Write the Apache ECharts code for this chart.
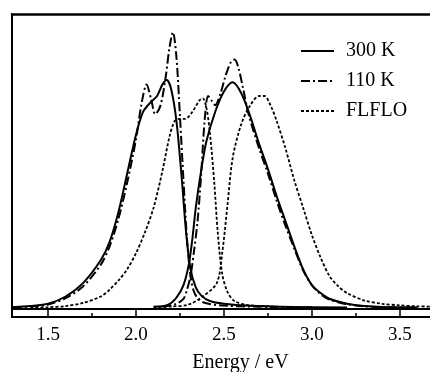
<!DOCTYPE html>
<html>
<head>
<meta charset="utf-8">
<script src="https://cdn.jsdelivr.net/npm/echarts@6/dist/echarts.min.js"></script>
<style>
  html, body { margin: 0; padding: 0; background: #fff; }
  #chart { width: 430px; height: 372px; }
</style>
</head>
<body>
<div id="chart"></div>
<script>
// energy (eV), intensity (a.u.)
const em300 = [[1.30,0.3],[1.40,0.8],[1.50,1.8],[1.60,5],[1.70,11],[1.80,21],[1.85,29],[1.90,42],[1.95,59],[2.00,76],[2.04,86],[2.08,90],[2.12,93],[2.15,98],[2.175,100],[2.20,96],[2.23,82],[2.26,57],[2.285,33],[2.31,17],[2.34,9],[2.37,5.5],[2.42,3],[2.50,1.8],[2.65,0.9],[2.90,0.4],[3.20,0.2]]
const ex300 = [[2.10,0.5],[2.18,1.3],[2.23,4.5],[2.27,10],[2.30,19],[2.32,30],[2.34,44],[2.37,60],[2.40,73],[2.45,86],[2.50,95],[2.55,99],[2.60,94],[2.65,84],[2.70,72],[2.75,61],[2.80,49],[2.85,38],[2.90,27],[2.95,17],[3.00,10],[3.05,6.5],[3.10,4],[3.20,1.8],[3.30,0.8],[3.40,0.4],[3.60,0.2]]
const em110 = [[1.30,0.2],[1.40,0.6],[1.50,1.5],[1.60,4.3],[1.70,9.5],[1.80,19],[1.85,27],[1.90,39],[1.95,55],[2.00,74],[2.03,89],[2.06,98],[2.085,92],[2.11,85],[2.14,89],[2.17,102],[2.19,114],[2.21,121],[2.23,110],[2.25,84],[2.27,56],[2.29,30],[2.31,14],[2.33,7],[2.36,3.5],[2.40,2],[2.50,1],[2.70,0.5],[3.00,0.2]]
const ex110 = [[2.15,0.5],[2.22,1.5],[2.27,4],[2.29,8],[2.31,14],[2.33,25],[2.35,38],[2.37,58],[2.39,82],[2.41,93],[2.43,91],[2.45,89],[2.48,94],[2.51,102],[2.54,108],[2.56,109],[2.58,106],[2.61,96],[2.64,85],[2.70,70],[2.75,59],[2.80,47],[2.85,36],[2.90,26],[2.95,16.5],[3.00,10],[3.05,6],[3.10,3.7],[3.20,1.6],[3.30,0.7],[3.40,0.3],[3.60,0.1]]
const emFlflo = [[1.40,0.1],[1.50,0.3],[1.60,0.8],[1.70,2.2],[1.80,5],[1.85,8],[1.90,12],[1.95,17],[2.00,24],[2.05,33],[2.10,44],[2.15,60],[2.19,75],[2.22,82],[2.25,83],[2.28,83],[2.32,86],[2.36,91],[2.38,92],[2.40,88],[2.42,77],[2.445,55],[2.465,33],[2.49,15],[2.52,7],[2.56,3],[2.63,1.3],[2.80,0.5],[3.00,0.2]]
const exFlflo = [[2.10,0.3],[2.20,0.6],[2.30,1.5],[2.38,5],[2.46,11],[2.49,24],[2.52,45],[2.55,66],[2.60,81],[2.65,89],[2.70,93],[2.73,93],[2.77,88],[2.80,82],[2.85,70],[2.90,56],[2.95,44],[3.00,32],[3.05,22],[3.10,14],[3.15,9.5],[3.20,6.5],[3.30,3.2],[3.40,1.8],[3.50,1.1],[3.60,0.7],[3.70,0.5]]

const majorTicks = [1.5, 2.0, 2.5, 3.0, 3.5]
const minorTicks = [1.75, 2.25, 2.75, 3.25]
const legendNames = ['300 K', '110 K', 'FLFLO']

const font = 'Liberation Serif'
const xMin = 1.295, xMax = 3.7
const solid = { color: '#000', width: 2, type: 'solid' }
const dashDot = { color: '#000', width: 2, type: [9, 3, 2, 3] }
const dotted = { color: '#000', width: 1.8, type: [3, 2] }

function line(name, data, style) {
  return {
    name: name, type: 'line', data: data, xAxisIndex: 0,
    smooth: 0.3, symbol: 'none',
    lineStyle: style, itemStyle: { color: '#000' }, silent: true
  }
}

const plainAxis = {
  type: 'value', min: xMin, max: xMax,
  axisTick: { show: false }, axisLabel: { show: false }, splitLine: { show: false }
}

let chart = echarts.init(document.getElementById('chart'))
chart.setOption({
  backgroundColor: '#fff',
  animation: false,
  grid: { left: 12, top: 14, right: -5, bottom: 55, outerBoundsMode: 'none', containLabel: false },
  legend: {
    data: legendNames, orient: 'vertical', left: 295, top: 36,
    itemWidth: 33, itemHeight: 14, itemGap: 10,
    itemStyle: { opacity: 0 },
    textStyle: { fontFamily: font, fontSize: 20, lineHeight: 20, color: '#000', padding: [0, 0, 0, 7] }
  },
  xAxis: [
    {
      type: 'value', min: xMin, max: xMax, position: 'bottom',
      axisLine: { onZero: false, lineStyle: { color: '#000', width: 2 } },
      axisTick: { inside: true, length: 8, customValues: majorTicks, lineStyle: { color: '#000', width: 1.5 } },
      axisLabel: { customValues: majorTicks, formatter: v => v.toFixed(1), margin: 9, fontFamily: font, fontSize: 19, color: '#000' },
      splitLine: { show: false },
      name: 'Energy / eV', nameLocation: 'middle', nameGap: 36,
      nameTextStyle: { fontFamily: font, fontSize: 20, color: '#000', padding: [0, 0, 0, 34] }
    },
    Object.assign({}, plainAxis, {
      position: 'bottom', axisLine: { show: false, onZero: false },
      axisTick: { show: true, inside: true, length: 4, customValues: minorTicks, lineStyle: { color: '#000', width: 1.5 } }
    }),
    Object.assign({}, plainAxis, { position: 'bottom', offset: -8, axisLine: { onZero: false, lineStyle: { color: '#000', width: 2 } } }),
    Object.assign({}, plainAxis, { position: 'top', axisLine: { onZero: false, lineStyle: { color: '#000', width: 2.5 } } })
  ],
  yAxis: {
    type: 'value', min: -4, max: 129,
    axisLine: { show: true, onZero: false, lineStyle: { color: '#000', width: 2 } },
    axisTick: { show: false }, axisLabel: { show: false }, splitLine: { show: false }
  },
  series: [
    line('300 K', em300, solid),
    line('300 K', ex300, solid),
    line('110 K', em110, dashDot),
    line('110 K', ex110, dashDot),
    line('FLFLO', emFlflo, dotted),
    line('FLFLO', exFlflo, dotted)
  ]
})
</script>
</body>
</html>
